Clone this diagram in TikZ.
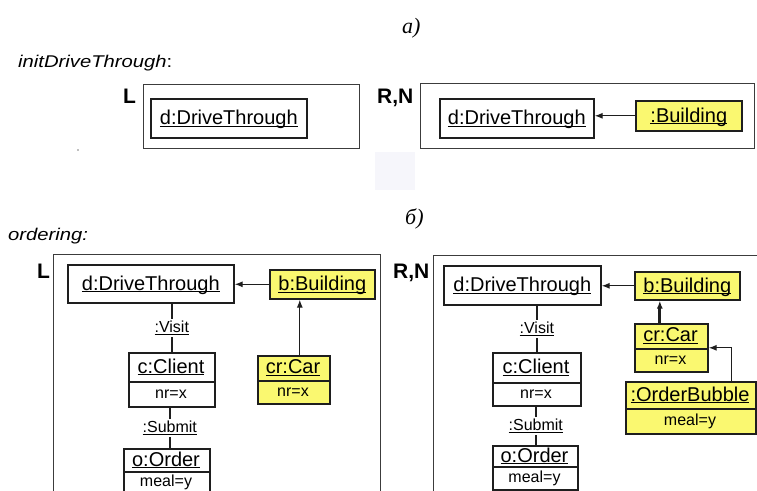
\documentclass[tikz,border=0pt]{standalone}
\usepackage{fontspec}
\setmainfont{Liberation Sans}
\newfontfamily\capfont[FakeStretch=1.19]{Liberation Sans}
\newfontfamily\partfont{Liberation Serif}
\usetikzlibrary{arrows.meta}
\definecolor{objyellow}{RGB}{250,248,112}
\definecolor{edgecol}{RGB}{30,30,30}
\definecolor{framecol}{RGB}{60,60,60}
\definecolor{faintcol}{RGB}{246,246,251}
% underlined object name; descenders do not push the rule down
\newcommand\objname[1]{\underline{\raisebox{0pt}[\height][0pt]{#1}}}
% single-compartment object box: name, x1, y1, x2, y2, style, text
\newcommand\onepart[7]{%
  \node[#6, minimum width={#4-#2}, minimum height={#5-#3}, anchor=north west]
    (#1) at (#2,#3) {};
  \node[nametxt] at (#1.center) {\objname{#7}};}
% two-compartment object box: name, x1, y1, x2, y2, divider y, style, name text, attribute
\newcommand\twopart[9]{%
  \node[#7, minimum width={#4-#2}, minimum height={#5-#3}, anchor=north west]
    (#1) at (#2,#3) {};
  \draw[objline] (#1.west |- 0,#6) -- (#1.east |- 0,#6);
  \node[nametxt] at ({(#2+#4)/2},{(#3+#6)/2}) {\objname{#8}};
  \node[attrtxt] at ({(#2+#4)/2},{(#6+#5)/2}) {#9};}
\begin{document}
\begin{tikzpicture}[x=1pt,y=-1pt,
  objline/.style={draw=edgecol, line width=1.6pt},
  objbox/.style={objline, fill=white, inner sep=0pt},
  ybox/.style={objbox, fill=objyellow},
  nametxt/.style={inner sep=0pt, font=\fontsize{20}{24}\selectfont},
  attrtxt/.style={inner sep=0pt, font=\fontsize{16}{19}\selectfont},
  frame/.style={draw=framecol, line width=1.3pt, inner sep=0pt},
  side/.style={inner sep=0pt, anchor=base west, font=\fontsize{21}{24}\selectfont\bfseries},
  title/.style={inner sep=0pt, anchor=base west, font=\fontsize{17}{20}\selectfont\capfont},
  part/.style={inner sep=0pt, anchor=base west, font=\fontsize{22}{26}\selectfont\partfont\itshape},
  arr/.style={draw=edgecol, line width=1.2pt, -{Latex[length=8pt,width=6pt]}},
  assoc/.style={draw=edgecol, line width=2.6pt},
  rolelbl/.style={fill=white, inner sep=2.5pt, font=\fontsize{16}{19}\selectfont}
]
\useasboundingbox (0,0) rectangle (757,490);
\clip (0,0) rectangle (757,490);

% ---------- part a: initDriveThrough ----------
\node[part] (pa) at (402,33) {а)};
\node[title] (ta) at (18,67) {\itshape initDriveThrough\upshape:};

\node[side] (la) at (123,103) {L};
\node[frame, minimum width=216, minimum height=64, anchor=north west] (lfa) at (143,84) {};
\onepart{dta}{150}{98}{306}{137}{objbox}{d:DriveThrough}

\node[side] (ra) at (377,103) {R,N};
\node[frame, minimum width=334, minimum height=65, anchor=north west] (rfa) at (420,83) {};
\onepart{dtb}{439}{98}{593}{137}{objbox}{d:DriveThrough}
\onepart{bla}{635}{100}{741}{130}{ybox}{:Building}
\draw[arr] (bla.west) -- (bla.west -| dtb.east);

\fill[faintcol] (375,152) rectangle (415,190);
\fill[gray] (78,150) circle (0.8);

% ---------- part b: ordering ----------
\node[part] (pb) at (405,224) {б)};
\node[title] (tb) at (8,240) {\itshape ordering:};

% left-hand side
\node[side] (lb) at (37,278) {L};
\node[frame, minimum width=327, minimum height=250, anchor=north west] (lfb) at (53,254) {};
\onepart{dtc}{67}{264}{233}{302}{objbox}{d:DriveThrough}
\onepart{blb}{269}{269}{374}{298}{ybox}{b:Building}
\twopart{cla}{128}{352}{214}{406}{382}{objbox}{c:Client}{nr=x}
\twopart{ora}{123}{448}{209}{493}{472}{objbox}{o:Order}{meal=y}
\twopart{cra}{257}{355}{329}{403}{381}{ybox}{cr:Car}{nr=x}

\draw[arr] (blb.west) -- (blb.west -| dtc.east);
\draw[assoc] (cla.north) -- (cla.north |- dtc.south)
  node[rolelbl, midway] {\objname{:Visit}};
\draw[assoc] ([xshift=-2]cla.south) -- ([xshift=-2]cla.south |- ora.north)
  node[rolelbl, midway] {\objname{:Submit}};
\draw[arr] ([xshift=6]cra.north) -- ([xshift=6]cra.north |- blb.south);

% right-hand side
\node[side] (rb) at (393,278) {R,N};
\node[frame, minimum width=360, minimum height=250, anchor=north west] (rfb) at (433,255) {};
\onepart{dtd}{443}{265}{600}{304}{objbox}{d:DriveThrough}
\onepart{blc}{634}{271}{739}{299}{ybox}{b:Building}
\twopart{clb}{492}{352}{580}{405}{383}{objbox}{c:Client}{nr=x}
\twopart{orb}{492}{445}{577}{489}{467}{objbox}{o:Order}{meal=y}
\twopart{crb}{634}{323}{707}{371}{349}{ybox}{cr:Car}{nr=x}
\twopart{obb}{625}{381}{755}{433}{409}{ybox}{:OrderBubble}{meal=y}

\draw[arr] (blc.west) -- (blc.west -| dtd.east);
\draw[assoc] (clb.north) -- (clb.north |- dtd.south)
  node[rolelbl, midway] {\objname{:Visit}};
\draw[assoc] ([xshift=-1]clb.south) -- ([xshift=-1]clb.south |- orb.north)
  node[rolelbl, midway] {\objname{:Submit}};
\draw[arr, line width=2.8pt] ([xshift=-11.5]crb.north) -- ([xshift=-11.5]crb.north |- blc.south);
\draw[arr] ([xshift=41]obb.north) |- (crb.east);
\end{tikzpicture}
\end{document}
